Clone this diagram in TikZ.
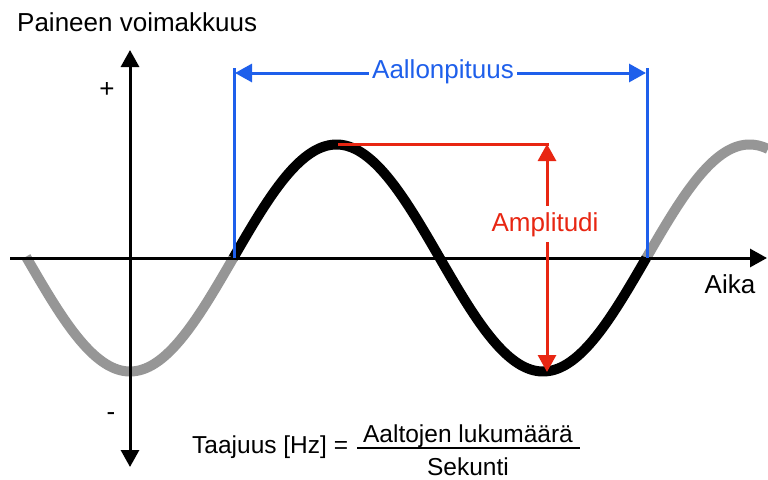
\documentclass[tikz,border=0pt]{standalone}
\usepackage{fontspec}
\setmainfont{Liberation Sans}
\usetikzlibrary{arrows.meta}
\definecolor{wblue}{RGB}{30,95,235}
\definecolor{wred}{RGB}{232,38,18}
\definecolor{wgray}{RGB}{150,150,150}
\tikzset{
  lbl/.style={inner sep=0pt, font=\fontsize{26}{30}\selectfont},
  flbl/.style={inner sep=0pt, font=\fontsize{24.5}{28}\selectfont},
  axis/.style={line width=3pt, -{Triangle[length=17pt,width=18pt]}},
  bluedim/.style={wblue, line width=3pt},
  bluearr/.style={bluedim, {Triangle[length=17pt,width=18pt]}-{Triangle[length=17pt,width=18pt]}},
  redline/.style={wred, line width=3pt},
  redarr/.style={redline, {Triangle[length=17pt,width=18pt]}-{Triangle[length=17pt,width=18pt]}},
  wave/.style={line width=10pt, line cap=butt},
}
\begin{document}
\begin{tikzpicture}[x=1pt,y=-1pt]
\useasboundingbox (0,0) rectangle (768,479);
% wave
\draw[wave, wgray] plot[domain=26:233.25, samples=80, smooth] (\x,{258+113.5*cos((\x-130)/206.5*180)});
\draw[wave, wgray] plot[domain=646.25:768, samples=60, smooth] (\x,{258+113.5*cos((\x-130)/206.5*180)});
\draw[wave, black] plot[domain=233.25:646.25, samples=140, smooth] (\x,{258+113.5*cos((\x-130)/206.5*180)});
% axes
\coordinate (xs) at (10,258);
\coordinate (xe) at (767,258);
\coordinate (yt) at (130,50);
\coordinate (yb) at (130,467);
\draw[axis] (xs) -- (xe);
\draw[axis] (130,258) -- (yt);
\draw[axis] (130,258) -- (yb);
\node[lbl, anchor=base west] (ylab) at (17,31) {Paineen voimakkuus};
\node[lbl, anchor=base] (xlab) at (730,293) {Aika};
\node[lbl] (plus) at (107,90) {+};
\node[lbl] (minus) at (111,417) {-};
% wavelength
\coordinate (bl0) at (234,258);
\coordinate (bl1) at (234,68);
\coordinate (br0) at (647,258);
\coordinate (br1) at (647,68);
\draw[bluedim] (bl0) -- (bl1);
\draw[bluedim] (br0) -- (br1);
\coordinate (al) at (235,73);
\coordinate (ar) at (646,73);
\draw[bluearr] (al) -- (ar);
\node[lbl, wblue, fill=white, inner xsep=3pt, inner ysep=2pt, anchor=base] (wl) at (443,78) {Aallonpituus};
% amplitude
\coordinate (pk) at (338,144);
\coordinate (at) at (547,144);
\coordinate (ab) at (547,372);
\draw[redline] (pk) -- (548.5,144);
\draw[redarr] (at) -- (ab);
\node[lbl, wred, fill=white, inner xsep=2pt, inner ysep=6pt, anchor=base] (amp) at (545,231) {Amplitudi};
% frequency formula
\node[flbl, anchor=base west] (freq) at (192,453) {Taajuus [Hz] =};
\node[flbl, anchor=base] (num) at (468,442) {Aaltojen lukumäärä};
\node[flbl, anchor=base] (den) at (468,475) {Sekunti};
\coordinate (fb0) at (357,448);
\coordinate (fb1) at (580,448);
\draw[line width=2.5pt] (fb0) -- (fb1);
\end{tikzpicture}
\end{document}
